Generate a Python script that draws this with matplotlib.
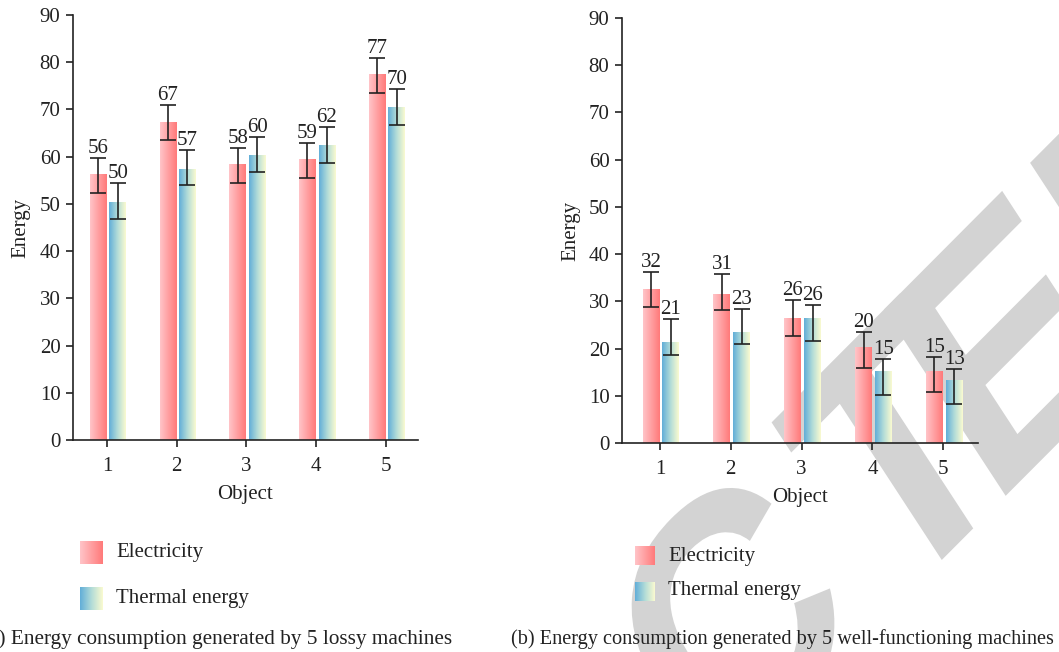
import matplotlib.pyplot as plt
import numpy as np
from matplotlib.colors import LinearSegmentedColormap
from matplotlib.textpath import TextPath
from matplotlib.font_manager import FontProperties
from matplotlib.patches import PathPatch
from matplotlib.transforms import Affine2D

plt.rcParams['font.family'] = ['Liberation Serif', 'DejaVu Serif']

# data
objects = [1, 2, 3, 4, 5]

# (a) lossy machines
elec_a = [56.2, 67.2, 58.3, 59.3, 77.3]
therm_a = [50.3, 57.3, 60.3, 62.3, 70.4]
elec_a_lo = [3.8, 3.7, 3.9, 3.9, 3.8]
elec_a_hi = [3.6, 3.7, 3.6, 3.5, 3.6]
therm_a_lo = [3.4, 3.3, 3.6, 3.6, 3.6]
therm_a_hi = [4.1, 4.2, 3.9, 3.9, 3.9]
labels_elec_a = ['56', '67', '58', '59', '77']
labels_therm_a = ['50', '57', '60', '62', '70']

# (b) well-functioning machines
elec_b = [32.5, 31.4, 26.3, 20.2, 15.1]
therm_b = [21.2, 23.4, 26.3, 15.1, 13.2]
elec_b_lo = [3.7, 3.2, 3.6, 4.3, 4.3]
elec_b_hi = [3.8, 4.3, 3.9, 3.2, 3.2]
therm_b_lo = [2.5, 2.5, 4.6, 4.9, 4.9]
therm_b_hi = [5.0, 5.0, 2.9, 2.7, 2.5]
labels_elec_b = ['32', '31', '26', '20', '15']
labels_therm_b = ['21', '23', '26', '15', '13']

cmap_elec = LinearSegmentedColormap.from_list('elec', ['#ffc4c8', '#ff7a7a'])
cmap_therm = LinearSegmentedColormap.from_list('therm', ['#62aed8', '#b2dcd8', '#fafad0'])
grad = np.linspace(0, 1, 64).reshape(1, -1)

w = 0.24
off_e = -0.125
off_t = 0.155
FS = 15
TXT = '#222222'

fig = plt.figure(figsize=(10.59, 6.52), dpi=100)

# retraction watermark, letters laid out in pixel space (rotated, then stretched)
wm_fp = FontProperties(family='Liberation Sans', weight='bold')
wm_tr = Affine2D().rotate_deg(39).scale(1, 1.24)
for ch, s0 in [('C', 482), ('T', 713), ('E', 842), ('D', 1030)]:
    tp = TextPath((s0, -535), ch, size=281, prop=wm_fp)
    fig.add_artist(PathPatch(tp, transform=wm_tr, facecolor='#d3d3d3', edgecolor='none', zorder=-5))


def gbar(ax, x, h, cmap):
    ax.imshow(grad, extent=[x - w / 2, x + w / 2, 0, h], aspect='auto', cmap=cmap, zorder=2)


def panel(ax, elec, therm, elo, ehi, tlo, thi, le, lt, xlim, ylab_x):
    for i, o in enumerate(objects):
        gbar(ax, o + off_e, elec[i], cmap_elec)
        gbar(ax, o + off_t, therm[i], cmap_therm)
    xe = [o + off_e for o in objects]
    xt = [o + off_t for o in objects]
    ax.errorbar(xe, elec, yerr=[elo, ehi], fmt='none', ecolor=TXT, elinewidth=1.2, capsize=6, capthick=1.2, zorder=3)
    ax.errorbar(xt, therm, yerr=[tlo, thi], fmt='none', ecolor=TXT, elinewidth=1.2, capsize=6, capthick=1.2, zorder=3)
    for i in range(len(objects)):
        ax.annotate(le[i], (xe[i], elec[i] + ehi[i]), xytext=(0, 0), textcoords='offset points',
                    ha='center', va='bottom', fontsize=FS, color=TXT)
        ax.annotate(lt[i], (xt[i], therm[i] + thi[i]), xytext=(0, 0), textcoords='offset points',
                    ha='center', va='bottom', fontsize=FS, color=TXT)
    ax.set_xlim(*xlim)
    ax.set_ylim(0, 90)
    ax.set_yticks(range(0, 91, 10))
    ax.set_xticks(objects)
    ax.spines['top'].set_visible(False)
    ax.spines['right'].set_visible(False)
    for s in ['left', 'bottom']:
        ax.spines[s].set_color(TXT)
        ax.spines[s].set_linewidth(1.2)
    ax.tick_params(direction='out', length=5, width=1.2, colors=TXT, labelsize=FS)
    ax.tick_params(axis='x', pad=7)
    ax.tick_params(axis='y', pad=4)
    ax.set_ylabel('Energy', fontsize=FS, color=TXT)
    ax.yaxis.set_label_coords(ylab_x, 0.5)
    ax.set_xlabel('Object', fontsize=FS, color=TXT, labelpad=7)
    ax.patch.set_alpha(0)


ax1 = fig.add_axes([0.0689, 0.3252, 0.3258, 0.6518])
panel(ax1, elec_a, therm_a, elec_a_lo, elec_a_hi, therm_a_lo, therm_a_hi,
      labels_elec_a, labels_therm_a, (0.514, 5.46), -0.122)

ax2 = fig.add_axes([0.5873, 0.3206, 0.3362, 0.6518])
panel(ax2, elec_b, therm_b, elec_b_lo, elec_b_hi, therm_b_lo, therm_b_hi,
      labels_elec_b, labels_therm_b, (0.463, 5.49), -0.118)


# legends drawn by hand (gradient swatches)
def swatch(x0, y0, sw, sh, cmap):
    a = fig.add_axes([x0 / 1059, 1 - (y0 + sh) / 652, sw / 1059, sh / 652])
    a.imshow(grad, aspect='auto', cmap=cmap)
    a.axis('off')


swatch(80, 541, 23, 23, cmap_elec)
swatch(80, 587, 23, 23, cmap_therm)
fig.text(116 / 1059, 1 - 552 / 652, 'Electricity', fontsize=FS, va='center', color=TXT)
fig.text(116 / 1059, 1 - 599 / 652, 'Thermal energy', fontsize=FS, va='center', color=TXT)

swatch(635, 546, 20, 19, cmap_elec)
swatch(635, 582, 20, 19, cmap_therm)
fig.text(668 / 1059, 1 - 556 / 652, 'Electricity', fontsize=FS, va='center', color=TXT)
fig.text(668 / 1059, 1 - 590 / 652, 'Thermal energy', fontsize=FS, va='center', color=TXT)

# captions
fig.text(452 / 1059, 1 - 644 / 652, '(a) Energy consumption generated by 5 lossy machines',
         fontsize=15.3, ha='right', va='baseline', color=TXT)
fig.text(1054 / 1059, 1 - 644 / 652, '(b) Energy consumption generated by 5 well-functioning machines',
         fontsize=14.6, ha='right', va='baseline', color=TXT)

fig.savefig('out.png', dpi=100)
